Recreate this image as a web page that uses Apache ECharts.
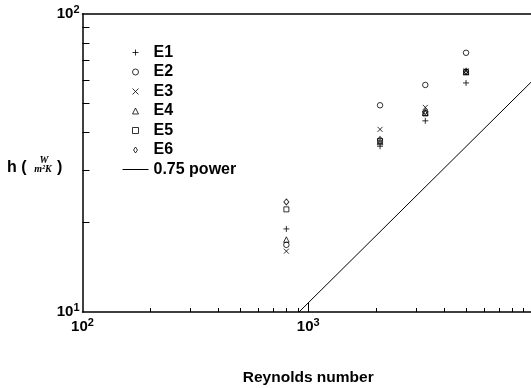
<!DOCTYPE html>
<html>
<head>
<meta charset="utf-8">
<script src="https://cdn.jsdelivr.net/npm/echarts@6/dist/echarts.min.js"></script>
<style>
html,body{margin:0;padding:0;background:#fff}
#main{width:531px;height:388px}
</style>
</head>
<body>
<div id="main"></div>
<script>
// values
var reynolds = [800, 2080, 3300, 5000];
var e1 = [19.0, 36.0, 43.8, 58.7];
var e2 = [16.8, 49.4, 57.8, 74.1];
var e3 = [16.0, 41.0, 48.6, 64.5];
var e4 = [17.5, 37.2, 46.6, 63.8];
var e5 = [22.1, 37.5, 46.4, 63.9];
var e6 = [23.4, 37.9, 47.0, 64.3];
var powerLine = [[910, 10], [10000, 60.4]];

var xMinorTicks = [200, 300, 400, 500, 600, 700, 800, 900, 2000, 3000, 4000, 5000, 6000, 7000, 8000, 9000];
var xMajorTicks = [1000];
var xTickLabels = [100, 1000];
var yMinorTicks = [20, 30, 40, 50, 60, 70, 80, 90];
var yTickLabels = [10, 100];

var FONT = "'Liberation Sans', Arial, Helvetica, sans-serif";
var SERIF = "'Liberation Serif', 'Times New Roman', serif";

// marker shapes (path so the legend keeps the aspect)
var PLUS = 'path://M0,5L10,5M5,0L5,10';
var RING = 'path://M0,5A5,5,0,1,1,10,5A5,5,0,1,1,0,5Z';
var CROSS = 'path://M0,0L10,10M0,10L10,0';
var TRI = 'path://M5,0L10,10L0,10Z';
var SQUARE = 'path://M0,0L10,0L10,10L0,10Z';
var DIAMOND = 'path://M4,0L8,6L4,12L0,6Z';

function pts(ys) {
  return reynolds.map(function (x, i) { return [x, ys[i]]; });
}

function powLabel(v) {
  return '{b|10}{s|' + Math.round(Math.log(v) / Math.LN10) + '}';
}
var powRich = {
  b: {fontSize: 15, fontWeight: 'bold', fontFamily: FONT, color: '#000'},
  s: {fontSize: 11, fontWeight: 'bold', fontFamily: FONT, color: '#000', padding: [0, 0, 9, 0]}
};

var markStyle = {color: 'rgba(255,255,255,0)', borderColor: '#000', borderWidth: 1};

var dom = document.getElementById('main');
var myChart = echarts.init(dom, null, {renderer: 'canvas'});

var option = {
  animation: false,
  backgroundColor: '#fff',
  grid: {left: 82.5, top: 14, bottom: 76, right: -3, outerBoundsMode: 'none', containLabel: false},
  legend: {
    orient: 'vertical',
    left: 117,
    top: 39,
    itemWidth: 26,
    itemHeight: 6,
    itemGap: 2.5,
    selectedMode: false,
    symbolKeepAspect: true,
    itemStyle: {borderWidth: 1, borderColor: '#000'},
    textStyle: {fontSize: 16, fontWeight: 'bold', fontFamily: FONT, color: '#000', lineHeight: 17},
    data: ['E1', 'E2', 'E3', 'E4', 'E5', 'E6',
      {name: '0.75 power', lineStyle: {width: 1, color: '#000'},
        itemStyle: {color: 'rgba(0,0,0,0)', borderWidth: 0, borderColor: 'rgba(0,0,0,0)'}}]
  },
  xAxis: [
    {
      type: 'log', logBase: 10, min: 100, max: 10000, position: 'bottom',
      axisLine: {lineStyle: {color: '#000', width: 1.5}},
      axisTick: {show: true, inside: true, length: 4, customValues: xMinorTicks, lineStyle: {color: '#000', width: 1}},
      axisLabel: {show: false},
      splitLine: {show: false},
      name: 'Reynolds number', nameLocation: 'middle', nameGap: 58,
      nameTextStyle: {fontSize: 15.5, fontWeight: 'bold', fontFamily: FONT, color: '#000'}
    },
    {
      type: 'log', logBase: 10, min: 100, max: 10000, position: 'bottom',
      axisLine: {show: false},
      axisTick: {show: true, inside: true, length: 9, customValues: xMajorTicks, lineStyle: {color: '#000', width: 1}},
      axisLabel: {show: true, margin: 5, customValues: xTickLabels, formatter: powLabel, rich: powRich},
      splitLine: {show: false}
    },
    {
      type: 'log', logBase: 10, min: 100, max: 10000, position: 'top',
      axisLine: {lineStyle: {color: '#000', width: 1.5}},
      axisTick: {show: false},
      axisLabel: {show: false},
      splitLine: {show: false}
    }
  ],
  yAxis: [
    {
      type: 'log', logBase: 10, min: 10, max: 100, position: 'left',
      axisLine: {lineStyle: {color: '#000', width: 1.5}},
      axisTick: {show: true, inside: true, length: 7, customValues: yMinorTicks, lineStyle: {color: '#000', width: 1}},
      axisLabel: {show: true, margin: 3, customValues: yTickLabels, formatter: powLabel, rich: powRich},
      splitLine: {show: false}
    }
  ],
  graphic: [
    {type: 'text', x: 7, y: 168, style: {text: 'h (', font: 'bold 16px ' + FONT, fill: '#000', verticalAlign: 'middle'}},
    {type: 'text', x: 44, y: 160, style: {text: 'W', font: 'italic bold 10px ' + SERIF, fill: '#000', align: 'center', verticalAlign: 'middle'}},
    {type: 'text', x: 43, y: 169, style: {text: 'm\u00b2K', font: 'italic bold 10px ' + SERIF, fill: '#000', align: 'center', verticalAlign: 'middle'}},
    {type: 'text', x: 57, y: 168, style: {text: ')', font: 'bold 16px ' + FONT, fill: '#000', verticalAlign: 'middle'}}
  ],
  series: [
    {name: 'E1', type: 'scatter', symbol: PLUS, symbolSize: 6, itemStyle: markStyle, data: pts(e1)},
    {name: 'E2', type: 'scatter', symbol: RING, symbolSize: 5.5, itemStyle: markStyle, data: pts(e2)},
    {name: 'E3', type: 'scatter', symbol: CROSS, symbolSize: 5, itemStyle: markStyle, data: pts(e3)},
    {name: 'E4', type: 'scatter', symbol: TRI, symbolSize: 5.5, itemStyle: markStyle, data: pts(e4)},
    {name: 'E5', type: 'scatter', symbol: SQUARE, symbolSize: 5, itemStyle: markStyle, data: pts(e5)},
    {name: 'E6', type: 'scatter', symbol: DIAMOND, symbolSize: [5, 6], itemStyle: markStyle, data: pts(e6)},
    {
      name: '0.75 power', type: 'line', symbol: 'none', showSymbol: false, silent: true,
      lineStyle: {color: '#000', width: 1},
      itemStyle: {color: 'rgba(0,0,0,0)'},
      data: powerLine
    }
  ]
};

myChart.setOption(option);
</script>
</body>
</html>
